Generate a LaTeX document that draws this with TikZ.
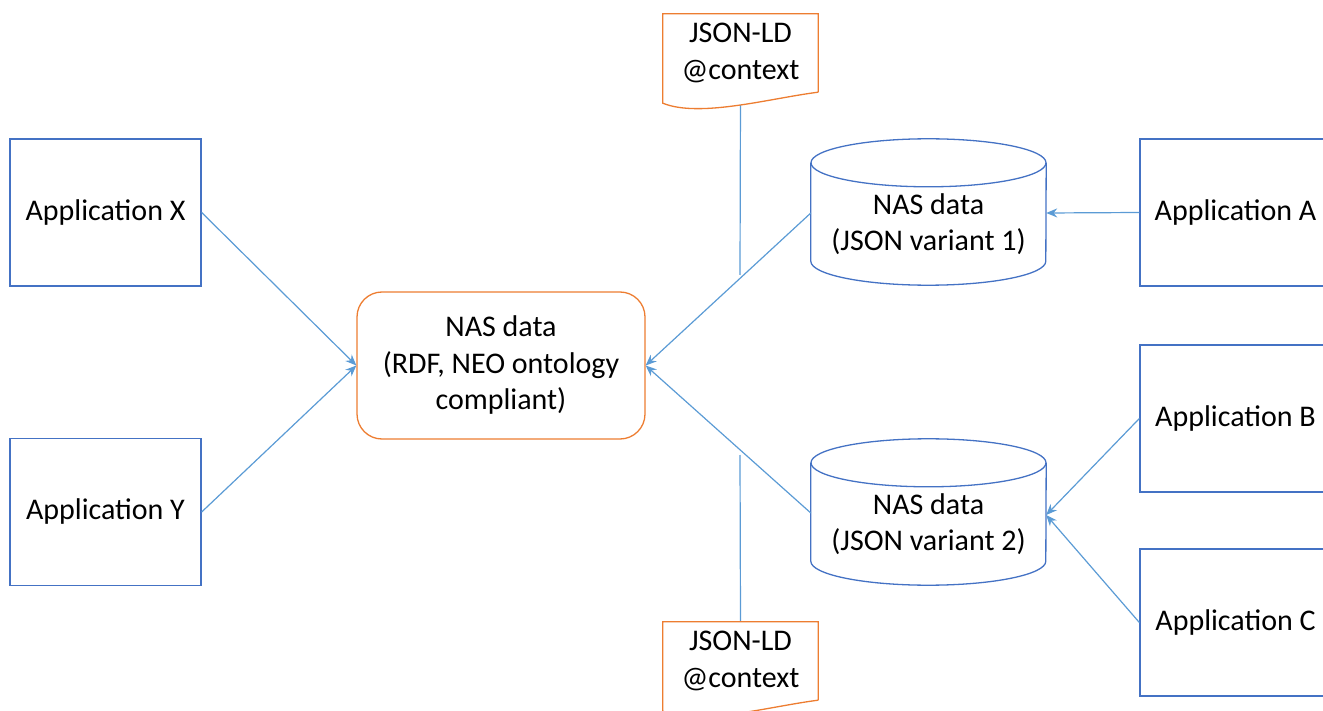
\documentclass[tikz,border=0pt]{standalone}
\usepackage{fontspec}
\setmainfont{Carlito}
\usetikzlibrary{arrows.meta}

\definecolor{boxblue}{HTML}{4472C4}
\definecolor{lineblue}{HTML}{5B9BD5}
\definecolor{docorange}{HTML}{ED7D31}

\begin{document}
\begin{tikzpicture}
	[x=1pt, y=-1pt, font=\fontsize{30}{36.5}\selectfont,
	 app/.style={draw=boxblue, line width=1.3pt, minimum width=191pt, minimum height=147pt},
	 store/.style={minimum width=235pt, minimum height=122pt, align=center, inner sep=0pt},
	 graph/.style={draw=docorange, line width=1.3pt, rounded corners=25pt,
	               minimum width=288pt, minimum height=147pt, align=center},
	 ctx/.style={minimum width=155pt, minimum height=78pt, align=center, inner sep=0pt},
	 link/.style={draw=lineblue, line width=1.2pt, -{Stealth[length=11pt,width=9pt]}},
	 rule/.style={draw=lineblue, line width=1.2pt}]

	\useasboundingbox (0,0) rectangle (1323,711);

	% applications
	\node[app] (appX) at (105.5,212.5) {Application X};
	\node[app] (appY) at (105.5,512)   {Application Y};
	\node[app] (appA) at (1235.5,212.5) {Application A};
	\node[app] (appB) at (1235.5,418.5) {Application B};
	\node[app] (appC) at (1235.5,622.5) {Application C};

	% data
	\node[graph] (rdf) at (501,365.5) {NAS data\\(RDF, NEO ontology\\compliant)};
	\node[store] (json1) at (928.5,224) {NAS data\\(JSON variant 1)};
	\node[store] (json2) at (928.5,524) {NAS data\\(JSON variant 2)};
	\foreach \s in {json1,json2} {
		\draw[boxblue, line width=1.3pt]
			(\s.north west) -- ([yshift=24pt]\s.south west)
			arc[start angle=180, end angle=360, x radius=117.5pt, y radius=24pt]
			-- (\s.north east);
		\draw[boxblue, line width=1.3pt] (\s.north) ellipse [x radius=117.5pt, y radius=24pt];
	}

	% contexts
	\node[ctx] (ctx1) at (740.5,53)  {JSON-LD\\@context};
	\node[ctx] (ctx2) at (740.5,661) {JSON-LD\\@context};
	\coordinate (end1) at (740,275);
	\coordinate (end2) at (740,455);

	% arrows
	\draw[link] (appX.east) -- (rdf.west);
	\draw[link] (appY.east) -- (rdf.west);
	\draw[link] ([yshift=11pt]json1.west) -- (rdf.east);
	\draw[link] ([yshift=11pt]json2.west) -- (rdf.east);
	\draw[link] (appA.west) -- ([yshift=11pt]json1.east);
	\draw[link] (appB.west) -- ([yshift=9pt]json2.east);
	\draw[link] (appC.west) -- ([yshift=9pt]json2.east);

	\draw[rule] (ctx1.south) -- (end1);
	\draw[rule] (ctx2.north) -- (end2);

	% document outlines
	\foreach \d in {ctx1,ctx2}
		\draw[docorange, line width=1.3pt, fill=white]
			(\d.south east) -- (\d.north east) -- (\d.north west)
			-- ([shift={(0,11)}]\d.south west)
			.. controls ([shift={(37,26)}]\d.south west) and ([shift={(-48,6)}]\d.south east) .. (\d.south east);
	\node[ctx] at (ctx1) {JSON-LD\\@context};
	\node[ctx] at (ctx2) {JSON-LD\\@context};

\end{tikzpicture}
\end{document}
